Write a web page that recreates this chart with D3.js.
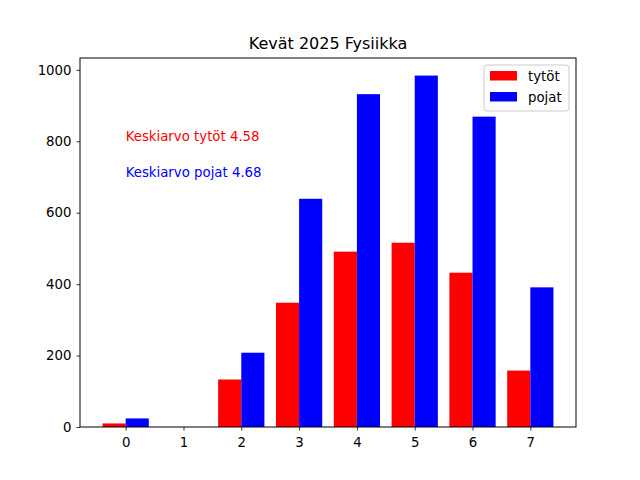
<!DOCTYPE html>
<html>
<head>
<meta charset="utf-8">
<script src="https://cdn.jsdelivr.net/npm/d3@7"></script>
<style>
body{margin:0;background:#fff}
svg text{font-family:"DejaVu Sans",sans-serif}
</style>
</head>
<body>
<svg id="chart" width="640" height="480"></svg>
<script>
var grades = [0,1,2,3,4,5,6,7]
var tytot = [10,0,133,348,491,516,432,158]
var pojat = [24,0,208,639,932,984,869,391]
var series = [
	{name:'tytöt', color:'#ff0000', values:tytot, offset:-0.2},
	{name:'pojat', color:'#0000ff', values:pojat, offset:0.2}
]
var notes = [
	{text:'Keskiarvo tytöt 4.58', color:'#ff0000', x:0, y:800},
	{text:'Keskiarvo pojat 4.68', color:'#0000ff', x:0, y:700}
]
var yTicks = [0,200,400,600,800,1000]

var svg = d3.select('#chart'),
	plotLeft = 80, plotRight = 576, plotTop = 58, plotBottom = 427,
	barW = 0.4

var x = d3.scaleLinear()
	.domain([-0.79,7.79])
	.range([plotLeft,plotRight])
var ymax = d3.max(pojat.concat(tytot))*1.05
var y = d3.scaleLinear()
	.domain([0,ymax])
	.range([plotBottom,plotTop])

series.forEach(function(s){
	svg.append('g')
		.selectAll('rect')
		.data(s.values)
		.enter()
		.append('rect')
		.attr('x',function(d,i){
			return x(grades[i]+s.offset-barW/2)
		})
		.attr('width',function(d,i){
			return x(barW)-x(0)
		})
		.attr('y',function(d){ return y(d) })
		.attr('height',function(d){ return plotBottom-y(d) })
		.attr('fill',s.color)
})

var xAxis = svg.append('g')
	.attr('transform','translate(0,'+plotBottom+')')
	.call(d3.axisBottom(x).tickValues(grades).tickSize(3.5).tickPadding(5).tickFormat(d3.format('d')))
var yAxis = svg.append('g')
	.attr('transform','translate('+plotLeft+',0)')
	.call(d3.axisLeft(y).tickValues(yTicks).tickSize(3.5).tickPadding(5).tickFormat(d3.format('d')))
;[xAxis,yAxis].forEach(function(a){
	a.select('.domain').remove()
	a.selectAll('text').style('font-size','13.3px').attr('fill','#000')
	a.selectAll('line').attr('stroke','#000').attr('stroke-width',0.8)
})
xAxis.selectAll('text').attr('dy','0.9em')

svg.append('rect')
	.attr('x',plotLeft)
	.attr('y',plotTop)
	.attr('width',plotRight-plotLeft)
	.attr('height',plotBottom-plotTop)
	.attr('fill','none')
	.attr('stroke','#000')
	.attr('stroke-width',1)

svg.append('text')
	.attr('x',(plotLeft+plotRight)/2)
	.attr('y',49)
	.attr('text-anchor','middle')
	.style('font-size','16px')
	.text('Kevät 2025 Fysiikka')

svg.selectAll('.note')
	.data(notes)
	.enter()
	.append('text')
	.attr('class','note')
	.attr('x',function(d){ return x(d.x) })
	.attr('y',function(d){ return y(d.y) })
	.attr('fill',function(d){ return d.color })
	.style('font-size','13.3px')
	.text(function(d){ return d.text })

var legend = svg.append('g')
	.attr('transform','translate(484,65)')
legend.append('rect')
	.attr('width',85)
	.attr('height',46)
	.attr('rx',3)
	.attr('fill','#fff')
	.attr('stroke','#ccc')
	.attr('stroke-width',1)
var item = legend.selectAll('.item')
	.data(series)
	.enter()
	.append('g')
	.attr('class','item')
	.attr('transform',function(d,i){
		return 'translate(6,'+(6+i*21)+')'
	})
item.append('rect')
	.attr('width',27)
	.attr('height',9.5)
	.attr('y',0)
	.attr('fill',function(d){ return d.color })
item.append('text')
	.attr('x',38)
	.attr('y',10)
	.style('font-size','13.3px')
	.text(function(d){ return d.name })
</script>
</body>
</html>
